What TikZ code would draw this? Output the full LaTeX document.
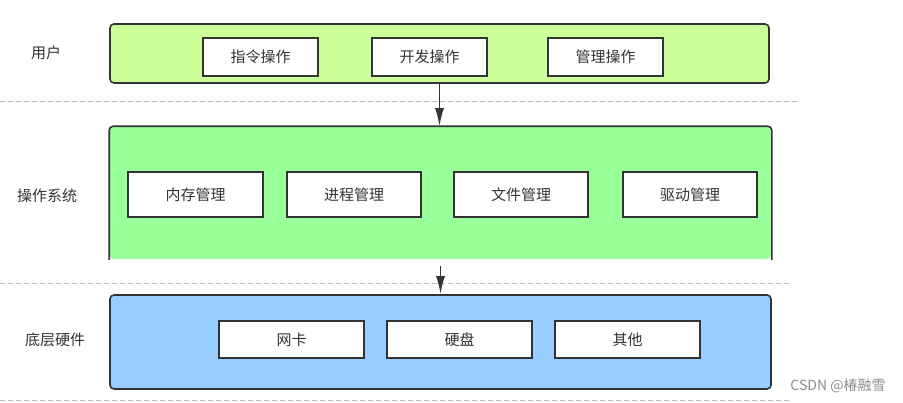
\documentclass[tikz,border=0pt]{standalone}
\usepackage{fontspec}
\setmainfont{Noto Sans CJK SC}
\usetikzlibrary{arrows.meta}
\definecolor{userfill}{HTML}{CCFF99}
\definecolor{osfill}{HTML}{99FF99}
\definecolor{hwfill}{HTML}{99CCFF}
\definecolor{edge}{HTML}{333333}
\definecolor{sepline}{HTML}{BBBBBB}

\begin{document}
\begin{tikzpicture}[x=1pt,y=-1pt,font=\fontsize{15}{17}\selectfont,
    layer/.style={rounded corners=4pt,line width=1.6pt,draw=edge,inner sep=0pt},
    part/.style={draw=edge,line width=1.6pt,fill=white,text=edge,inner sep=0pt},
    sep/.style={sepline,line width=1pt,dash pattern=on 5pt off 3pt},
    arr/.style={edge,line width=1.8pt,-{Latex[length=18pt,width=9pt]}}]
\useasboundingbox (0,0) rectangle (903,402);

% Separators:
\draw [sep] (0,101) -- (800,101);
\draw [sep] (0,283) -- (790,283);
\draw [sep] (0,400) -- (790,400);

% Layer names:
\node [text=edge] (lbl_user) at (46,53) {用户};
\node [text=edge] (lbl_os) at (47,196) {操作系统};
\node [text=edge] (lbl_hw) at (55,340) {底层硬件};

% Layers
\node [layer,fill=userfill,minimum width=659pt,minimum height=59pt] (user) at (439.5,53.5) {};
\node [layer,draw=none,fill=osfill,minimum width=661pt,minimum height=132pt] (os) at (440.5,193) {};
\draw [edge,line width=1.6pt,rounded corners=4pt] (os.south west) -- (os.north west) -- (os.north east) -- (os.south east);
\node [layer,fill=hwfill,minimum width=661pt,minimum height=94pt] (hw) at (440.5,342) {};

\begin{scope}[every node/.append style={part}]
% User parts
\node [minimum width=115pt,minimum height=38pt] (cmd) at (260.5,57) {指令操作};
\node [minimum width=115pt,minimum height=38pt] (dev) at (429.5,57) {开发操作};
\node [minimum width=115pt,minimum height=38pt] (mgmt) at (605.5,57) {管理操作};

% OS parts
\node [minimum width=135pt,minimum height=45pt] (mem) at (195.5,194.5) {内存管理};
\node [minimum width=134pt,minimum height=45pt] (proc) at (354,194.5) {进程管理};
\node [minimum width=134pt,minimum height=45pt] (file) at (521,194.5) {文件管理};
\node [minimum width=134pt,minimum height=45pt] (drv) at (690,194.5) {驱动管理};

% Hardware parts
\node [minimum width=145pt,minimum height=37pt] (nic) at (291.5,339.5) {网卡};
\node [minimum width=145pt,minimum height=37pt] (disk) at (459.5,339.5) {硬盘};
\node [minimum width=145pt,minimum height=37pt] (other) at (627.5,339.5) {其他};
\end{scope}

% Arrows between layers
\draw [arr] (user.south) -- (user.south |- os.north);
\draw [arr] ([yshift=-6pt]os.south) -- (hw.north);

\node [text=black!45,font=\fontsize{14}{16}\selectfont] (mark) at (838,386) {CSDN @椿融雪};
\end{tikzpicture}
\end{document}
